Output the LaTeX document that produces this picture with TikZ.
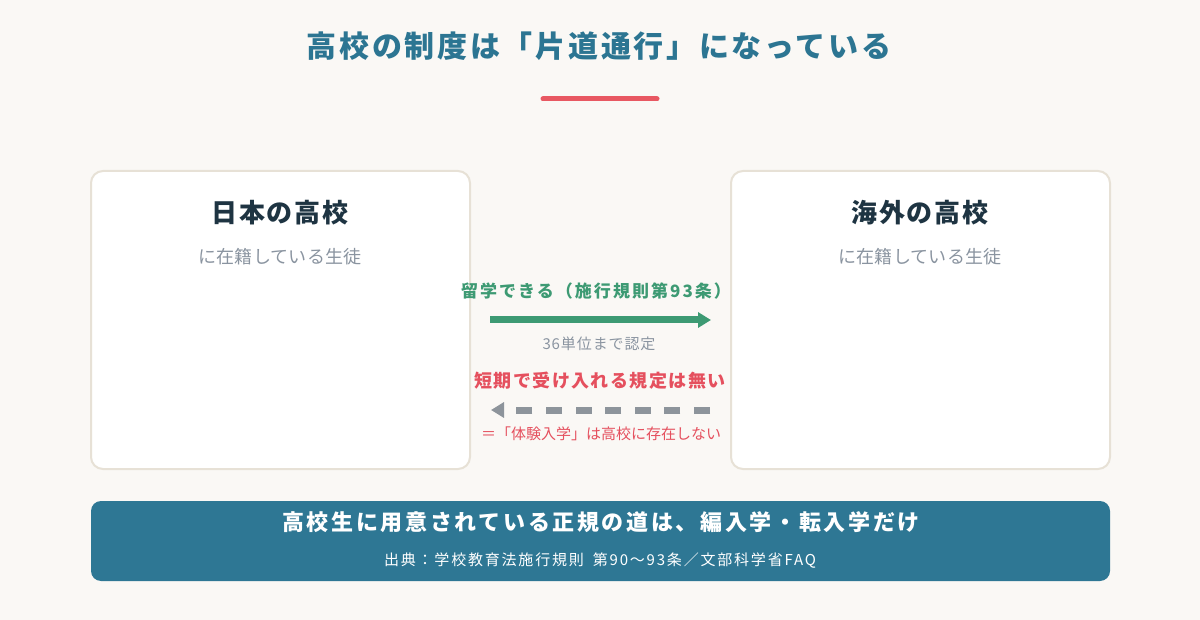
\documentclass[tikz,border=0pt]{standalone}
\usepackage{fontspec}
\setmainfont{Noto Sans CJK JP}
\usetikzlibrary{arrows.meta}
\newcommand{\fsz}[2]{\fontsize{#1}{#1}\selectfont\addfontfeatures{LetterSpace=#2}}

\begin{document}
\begin{tikzpicture}[x=1pt, y=-1pt,
 every node/.style={inner sep=0pt, anchor=center},
 card/.style={rectangle, minimum width=379pt, minimum height=298pt, rounded corners=12pt, line width=2pt, draw=cardline, fill=white},
 banner/.style={rectangle, minimum width=1019pt, minimum height=80pt, rounded corners=10pt, fill=bar},
 heading/.style={text=head, font=\bfseries\fsz{26}{6}},
 sub/.style={text=subgray, font=\fsz{18}{1}},
 okarrow/.style={-{Triangle[length=13pt, width=15pt]}, line width=7pt, draw=okgreen},
 ngarrow/.style={-{Triangle[length=13pt, width=15pt]}, line width=7pt, draw=arrgray, dash pattern=on 16pt off 13.6pt}]

    \definecolor{bg}{RGB}{250,248,245}
    \definecolor{title}{RGB}{44,117,146}
    \definecolor{accent}{RGB}{232,88,98}
    \definecolor{cardline}{RGB}{231,225,214}
    \definecolor{head}{RGB}{30,52,66}
    \definecolor{subgray}{RGB}{138,148,160}
    \definecolor{okgreen}{RGB}{61,154,115}
    \definecolor{nored}{RGB}{229,80,94}
    \definecolor{arrgray}{RGB}{141,148,155}
    \definecolor{bar}{RGB}{46,119,148}

    \fill[bg] (0,0) rectangle (1200,620);

	\node[text=title, font=\bfseries\fsz{30}{9}] (title) at (599,46) {高校の制度は「片道通行」になっている};
	\draw[accent, line width=5pt, line cap=round] (543,99) -- (657,99);

	\node[card] (jp) at (280.5,320) {};
	\node[card] (abroad) at (920.5,320) {};
	\node[heading] (jphead) at (280,213) {日本の高校};
	\node[sub] (jpsub) at (280,257) {に在籍している生徒};
	\node[heading] (abhead) at (920,213) {海外の高校};
	\node[sub] (absub) at (920,257) {に在籍している生徒};

	\node[text=okgreen, font=\bfseries\fsz{17}{12}] (oklabel) at (596,291) {留学できる（施行規則第93条）};
	\coordinate (okstart) at (490,320);
	\coordinate (okend) at (711,320);
	\draw[okarrow] (okstart) -- (okend);
	\node[text=subgray, font=\fsz{15}{6}] (credits) at (599,344) {36単位まで認定};

	\node[text=nored, font=\bfseries\fsz{18}{8}] (nolabel) at (600,381) {短期で受け入れる規定は無い};
	\coordinate (ngstart) at (710,410);
	\coordinate (ngend) at (491,410);
	\draw[ngarrow] (ngstart) -- (ngend);
	\node[text=nored, font=\fsz{15}{0}] (notrial) at (601,434) {＝「体験入学」は高校に存在しない};

	\node[banner] (bottom) at (600.5,541) {};
	\node[text=white, font=\bfseries\fsz{22}{12}] (way) at (601,522) {高校生に用意されている正規の道は、編入学・転入学だけ};
	\node[text=white, font=\fsz{15}{12}] (source) at (600,561) {出典：学校教育法施行規則\hspace{9pt}第90〜93条／文部科学省FAQ};
\end{tikzpicture}
\end{document}
